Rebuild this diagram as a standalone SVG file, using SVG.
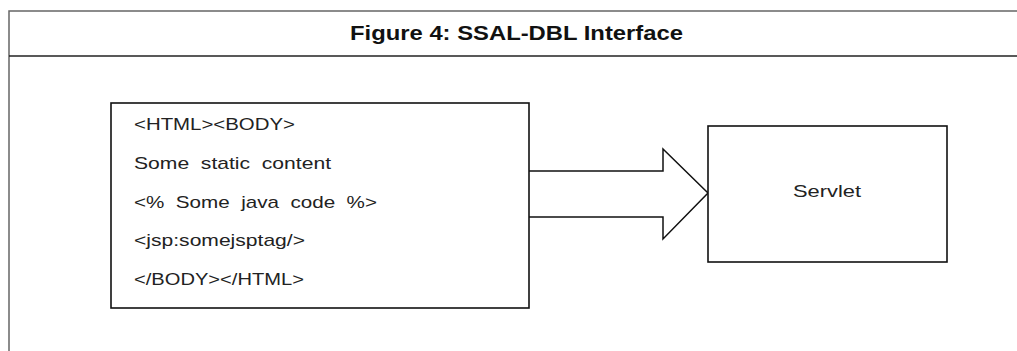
<svg xmlns="http://www.w3.org/2000/svg" width="1017" height="351" viewBox="0 0 1017 351">
<style>
.frame{fill:none;stroke:#666;stroke-width:1.5}
.div{stroke:#222;stroke-width:1.5}
.box{fill:#fff;stroke:#111;stroke-width:1.6}
.arrow{fill:#fff;stroke:#111;stroke-width:1.5;stroke-linejoin:miter}
.t{font-family:"Liberation Sans",Arial,sans-serif;font-size:17px;fill:#222;white-space:pre}
.title{font-family:"Liberation Sans",Arial,sans-serif;font-size:21px;font-weight:bold;fill:#111}
</style>
<rect width="1017" height="351" fill="#fff"/>
<g id="frame">
<path class="frame" d="M1017,11 H9 V351"/>
<line class="div" x1="9" y1="56" x2="1017" y2="56"/>
<text class="title" x="350" y="40" textLength="333" lengthAdjust="spacingAndGlyphs">Figure 4: SSAL-DBL Interface</text>
</g>
<g id="connectors">
<polyline class="arrow" points="529,171 663,171 663,149 708,193 663,239 663,217 529,217"/>
</g>
<g id="jsp">
<rect class="box" x="111" y="103" width="418" height="205"/>
<text class="t" x="134" y="130" textLength="161" lengthAdjust="spacingAndGlyphs">&lt;HTML&gt;&lt;BODY&gt;</text>
<text class="t" x="134" y="169" textLength="197" lengthAdjust="spacingAndGlyphs">Some  static  content</text>
<text class="t" x="134" y="208" textLength="243" lengthAdjust="spacingAndGlyphs">&lt;%  Some  java  code  %&gt;</text>
<text class="t" x="134" y="246" textLength="171" lengthAdjust="spacingAndGlyphs">&lt;jsp:somejsptag/&gt;</text>
<text class="t" x="134" y="285" textLength="170" lengthAdjust="spacingAndGlyphs">&lt;/BODY&gt;&lt;/HTML&gt;</text>
</g>
<g id="servlet">
<rect class="box" x="708" y="126" width="239" height="136"/>
<text class="t" x="793" y="197" textLength="68" lengthAdjust="spacingAndGlyphs">Servlet</text>
</g>
</svg>
